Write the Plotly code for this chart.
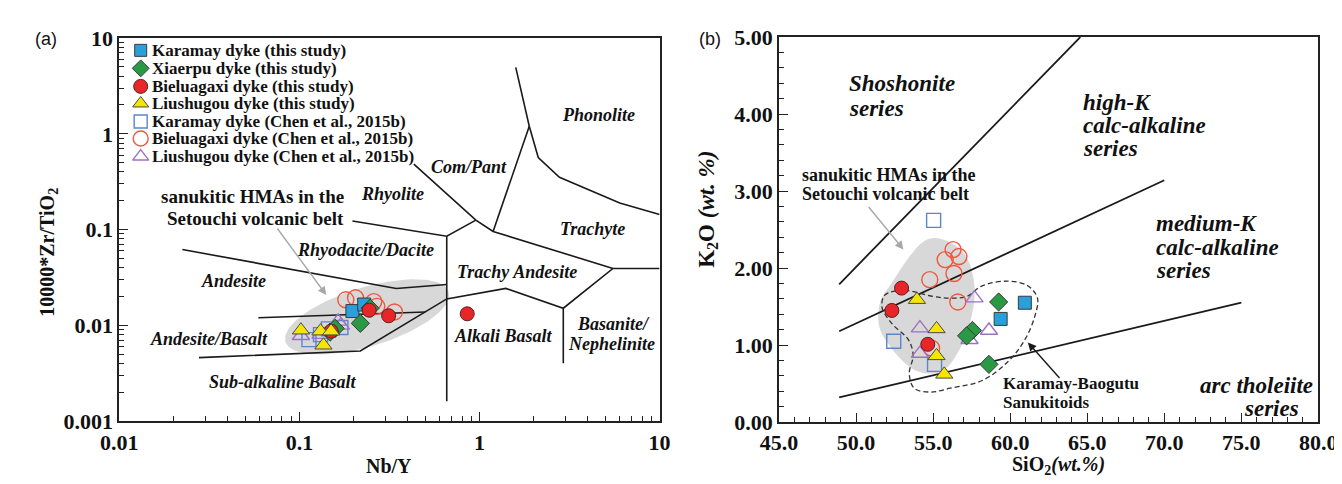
import numpy as np
import plotly.graph_objects as go

W, H = 1342, 484

# ---------------- Panel (a): Nb/Y vs 10000*Zr/TiO2 ----------------
a_karamay_x = [0.197, 0.229]
a_karamay_y = [0.0141, 0.0165]
a_xiaerpu_x = [0.218, 0.247, 0.158, 0.148]
a_xiaerpu_y = [0.0105, 0.0151, 0.0093, 0.0085]
a_bielu_x = [0.244, 0.313, 0.150, 0.855]
a_bielu_y = [0.0144, 0.0126, 0.0087, 0.0132]
a_liushu_x = [0.102, 0.131, 0.150, 0.136]
a_liushu_y = [0.0089, 0.0087, 0.0087, 0.0062]
a_karamay_c_x = [0.113, 0.131, 0.145, 0.170]
a_karamay_c_y = [0.0071, 0.0080, 0.0092, 0.0095]
a_bielu_c_x = [0.181, 0.205, 0.259, 0.269, 0.337]
a_bielu_c_y = [0.0185, 0.0194, 0.0177, 0.0158, 0.0138]
a_liushu_c_x = [0.102, 0.131, 0.164, 0.170]
a_liushu_c_y = [0.0078, 0.0080, 0.0110, 0.0100]

# ---------------- Panel (b): SiO2 vs K2O ----------------
b_karamay_x = [60.95, 59.38]
b_karamay_y = [1.55, 1.34]
b_xiaerpu_x = [59.25, 57.55, 57.17, 58.62]
b_xiaerpu_y = [1.56, 1.19, 1.12, 0.75]
b_bielu_x = [52.95, 52.32, 54.65]
b_bielu_y = [1.74, 1.45, 1.01]
b_liushu_x = [53.95, 55.22, 55.22, 55.72]
b_liushu_y = [1.59, 1.21, 0.86, 0.62]
b_karamay_c_x = [55.03, 52.44, 55.09]
b_karamay_c_y = [2.62, 1.05, 0.75]
b_bielu_c_x = [56.29, 56.67, 55.78, 56.35, 54.78, 56.60, 54.90]
b_bielu_c_y = [2.24, 2.15, 2.11, 1.93, 1.85, 1.56, 0.96]
b_liushu_c_x = [57.68, 54.14, 58.62, 57.36, 54.14]
b_liushu_c_y = [1.61, 1.22, 1.19, 1.07, 0.89]

series_names = [
    "Karamay dyke (this study)",
    "Xiaerpu dyke (this study)",
    "Bieluagaxi dyke (this study)",
    "Liushugou dyke (this study)",
    "Karamay dyke (Chen et al., 2015b)",
    "Bieluagaxi dyke (Chen et al., 2015b)",
    "Liushugou dyke (Chen et al., 2015b)",
]

# Field boundaries, panel (a) (Winchester & Floyd, 1977)
a_boundaries = [
    [(0.0224, 0.0619), (0.345, 0.0243), (0.658, 0.0267)],
    [(0.0592, 0.0120), (0.501, 0.0138)],
    [(0.0277, 0.00461), (0.218, 0.0054), (0.658, 0.0189), (1.40, 0.0243),
     (2.92, 0.0151), (5.51, 0.0393), (10.0, 0.0393)],
    [(0.658, 0.0853), (0.658, 0.00161)],
    [(2.92, 0.0151), (2.92, 0.00402)],
    [(0.197, 0.123), (0.658, 0.0853), (0.955, 0.1256)],
    [(0.432, 0.482), (0.955, 0.1256), (1.19, 0.0955), (5.51, 0.0393)],
    [(1.19, 0.0955), (1.89, 1.2)],
    [(1.59, 4.93), (1.89, 1.2), (2.12, 0.565), (2.78, 0.351), (6.01, 0.189), (10.0, 0.144)],
]

# Series boundaries, panel (b)
b_boundaries = [
    [(48.9, 1.79), (64.55, 5.0)],
    [(48.9, 1.18), (70.0, 3.14)],
    [(48.9, 0.32), (75.0, 1.55)],
]

# Sanukitic HMA field (b) outline
b_hma_x = [55.15, 56.41, 57.17, 57.68, 57.49, 56.73, 55.66, 54.65, 53.58, 52.13,
           51.50, 51.56, 52.32, 53.58, 54.40, 55.15]
b_hma_y = [2.39, 2.30, 2.14, 1.77, 1.37, 0.95, 0.67, 0.63, 0.70, 1.00,
           1.24, 1.56, 1.81, 2.18, 2.35, 2.39]
# Karamay-Baogutu sanukitoids outline (dashed)
b_san_x = [51.87, 53.14, 55.03, 56.10, 57.17, 58.18, 59.88, 61.14, 61.77, 61.59,
           60.95, 59.88, 58.18, 56.10, 54.84, 53.77, 53.45, 53.70, 53.39, 52.32,
           51.68, 51.87]
b_san_y = [1.65, 1.71, 1.63, 1.61, 1.63, 1.77, 1.83, 1.77, 1.61, 1.37,
           1.07, 0.79, 0.54, 0.44, 0.39, 0.44, 0.63, 0.87, 1.07, 1.28,
           1.49, 1.65]

# ---------------- layout geometry ----------------
AX0, AX1, AY0, AY1 = 95, 651, 19, 423      # panel (a) plot box in px
BX0, BX1, BY0, BY1 = 774, 1329, 18, 424    # panel (b) plot box in px
LEG_MARK_X, LEG_TEXT_X = 117, 127
LEG_ROWS = [32, 51, 70, 88, 107, 125, 144]


def px(x, y):
    return x / W, 1 - y / H


def a_from_px(x, y):
    lx = -2 + (x - AX0) / (AX1 - AX0) * 3
    ly = -3 + (AY1 - y) / (AY1 - AY0) * 4
    return 10 ** lx, 10 ** ly


# gray ellipse (sanukitic HMA field) in panel (a), defined in pixel space
t = np.linspace(0, 2 * np.pi, 120)
cx, cy, ra, rb, th = 350, 313, 88, 31, np.deg2rad(17.5)
ex = cx + ra * np.cos(t) * np.cos(th) + rb * np.sin(t) * np.sin(th)
ey = cy - ra * np.cos(t) * np.sin(th) + rb * np.sin(t) * np.cos(th)
ell = [a_from_px(u, v) for u, v in zip(ex, ey)]

fig = go.Figure()

fig.add_trace(go.Scatter(x=[p[0] for p in ell], y=[p[1] for p in ell], mode="lines",
                         fill="toself", fillcolor="#d8d8d8", line=dict(width=0),
                         hoverinfo="skip", showlegend=False, xaxis="x", yaxis="y"))
for seg in a_boundaries:
    fig.add_trace(go.Scatter(x=[p[0] for p in seg], y=[p[1] for p in seg], mode="lines",
                             line=dict(color="#1a1a1a", width=1.6), hoverinfo="skip",
                             showlegend=False, xaxis="x", yaxis="y"))

fig.add_trace(go.Scatter(x=b_hma_x, y=b_hma_y, mode="lines", fill="toself",
                         fillcolor="#d8d8d8", line=dict(width=0, shape="spline"),
                         hoverinfo="skip", showlegend=False, xaxis="x2", yaxis="y2"))
for seg in b_boundaries:
    fig.add_trace(go.Scatter(x=[p[0] for p in seg], y=[p[1] for p in seg], mode="lines",
                             line=dict(color="#1a1a1a", width=1.8), hoverinfo="skip",
                             showlegend=False, xaxis="x2", yaxis="y2"))
fig.add_trace(go.Scatter(x=b_san_x, y=b_san_y, mode="lines",
                         line=dict(color="#333333", width=1.3, dash="5px,3px", shape="spline"),
                         hoverinfo="skip", showlegend=False, xaxis="x2", yaxis="y2"))

styles = [
    dict(symbol="square", size=13, color="#2a9fd9", line=dict(color="#3a3a3a", width=1)),
    dict(symbol="diamond", size=14, color="#2a9944", line=dict(color="#3a3a3a", width=1)),
    dict(symbol="circle", size=14, color="#e8262a", line=dict(color="#5a2020", width=1)),
    dict(symbol="triangle-up", size=15, color="#f4e600", line=dict(color="#4a4a4a", width=1)),
    dict(symbol="square-open", size=14, color="#5a86cf", line=dict(width=1.4)),
    dict(symbol="circle-open", size=16, color="#f2553f", line=dict(width=1.4)),
    dict(symbol="triangle-up-open", size=15, color="#9c72c6", line=dict(width=1.4)),
]
legend_sizes = [12, 13, 14, 14, 13, 15, 14]
a_sets = [(a_karamay_x, a_karamay_y), (a_xiaerpu_x, a_xiaerpu_y), (a_bielu_x, a_bielu_y),
          (a_liushu_x, a_liushu_y), (a_karamay_c_x, a_karamay_c_y),
          (a_bielu_c_x, a_bielu_c_y), (a_liushu_c_x, a_liushu_c_y)]
b_sets = [(b_karamay_x, b_karamay_y), (b_xiaerpu_x, b_xiaerpu_y), (b_bielu_x, b_bielu_y),
          (b_liushu_x, b_liushu_y), (b_karamay_c_x, b_karamay_c_y),
          (b_bielu_c_x, b_bielu_c_y), (b_liushu_c_x, b_liushu_c_y)]
order = [4, 5, 6, 0, 1, 2, 3]  # open symbols underneath, filled on top
for i in order:
    fig.add_trace(go.Scatter(x=b_sets[i][0], y=b_sets[i][1], mode="markers",
                             marker=styles[i], name=series_names[i], legendgroup=str(i),
                             showlegend=False, xaxis="x2", yaxis="y2"))
for i in order:
    fig.add_trace(go.Scatter(x=a_sets[i][0], y=a_sets[i][1], mode="markers",
                             marker=styles[i], name=series_names[i], legendgroup=str(i),
                             showlegend=False, xaxis="x", yaxis="y"))

# compact key (legend) drawn on a pixel-space overlay axis
for i in range(7):
    m = dict(styles[i])
    m["size"] = legend_sizes[i]
    fig.add_trace(go.Scatter(x=[LEG_MARK_X], y=[LEG_ROWS[i]], mode="markers", marker=m,
                             name=series_names[i], legendgroup=str(i), showlegend=False,
                             hoverinfo="skip", xaxis="x3", yaxis="y3", cliponaxis=False))
# stray circle at the bottom edge of the source figure
fig.add_trace(go.Scatter(x=[688], y=[486], mode="markers",
                         marker=dict(symbol="circle-open", size=17, color="#f2553f",
                                     line=dict(width=1.4)),
                         hoverinfo="skip", showlegend=False, xaxis="x3", yaxis="y3",
                         cliponaxis=False))

SERIF = "Liberation Serif"
tickfont = dict(family=SERIF, size=22, color="#111", weight="bold")
common = dict(showline=True, linecolor="#222", linewidth=2, mirror=True, ticks="inside",
              showgrid=False, zeroline=False, tickfont=tickfont, tickcolor="#222")

log_minor_x = [m * 10 ** e for e in (-2, -1, 0) for m in range(2, 10)]
log_minor_y = [m * 10 ** e for e in (-3, -2, -1, 0) for m in range(2, 10)]

fig.update_layout(
    width=W, height=H, margin=dict(l=0, r=0, t=0, b=0),
    paper_bgcolor="white", plot_bgcolor="rgba(0,0,0,0)", showlegend=False,
    xaxis=dict(type="log", range=[-2, 1], domain=[AX0 / W, AX1 / W], anchor="y",
               tickvals=[0.01, 0.1, 1, 10], ticktext=["0.01", "0.1", "1", "10"], ticklen=9,
               minor=dict(ticks="inside", ticklen=5, tickcolor="#222", showgrid=False,
                          tickmode="array", tickvals=log_minor_x), **common),
    yaxis=dict(type="log", range=[-3, 1], domain=[1 - AY1 / H, 1 - AY0 / H], anchor="x",
               tickvals=[0.001, 0.01, 0.1, 1, 10], ticktext=["0.001", "0.01", "0.1", "1", "10"],
               ticklen=9, minor=dict(ticks="inside", ticklen=5, tickcolor="#222", showgrid=False,
                                     tickmode="array", tickvals=log_minor_y),
               **common),
    xaxis2=dict(range=[45, 80], domain=[BX0 / W, BX1 / W], anchor="y2",
                tickvals=[45, 50, 55, 60, 65, 70, 75, 80],
                ticktext=["45.0", "50.0", "55.0", "60.0", "65.0", "70.0", "75.0", "80.0"],
                ticklen=9, minor=dict(ticks="inside", ticklen=5, dtick=1, tickcolor="#222"),
                **common),
    yaxis2=dict(range=[0, 5], domain=[1 - BY1 / H, 1 - BY0 / H], anchor="x2",
                tickvals=[0, 1, 2, 3, 4, 5],
                ticktext=["0.00", "1.00", "2.00", "3.00", "4.00", "5.00"],
                ticklen=9, minor=dict(ticks="inside", ticklen=5, dtick=0.2, tickcolor="#222"),
                **common),
    xaxis3=dict(range=[0, W], domain=[0, 1], anchor="y3", visible=False, fixedrange=True),
    yaxis3=dict(range=[H, 0], domain=[0, 1], anchor="x3", visible=False, fixedrange=True),
)

ann = []


def label(text, x, y, size=15, color="#111", xanchor="center", angle=0, family=SERIF):
    X, Y = px(x, y)
    ann.append(dict(text=text, x=X, y=Y, xref="paper", yref="paper", showarrow=False,
                    xanchor=xanchor, yanchor="middle", textangle=angle,
                    font=dict(family=family, size=size, color=color)))


# legend texts
for i in range(7):
    label("<b>" + series_names[i] + "</b>", LEG_TEXT_X, LEG_ROWS[i], size=17, xanchor="left")

# panel letters
label("(a)", 20, 20, size=18, family="Liberation Sans")
label("(b)", 703, 20, size=18, family="Liberation Sans")

# panel (a) field labels
for txt, x, y in [("Phonolite", 588, 100), ("Com/Pant", 455, 155), ("Rhyolite", 376, 183),
                  ("Trachyte", 582, 220), ("Rhyodacite/Dacite", 348, 243),
                  ("Trachy Andesite", 504, 266), ("Andesite", 213, 275),
                  ("Alkali Basalt", 490, 333), ("Andesite/Basalt", 187, 336),
                  ("Basanite/", 604, 321), ("Nephelinite", 602, 342),
                  ("Sub-alkaline Basalt", 263, 382)]:
    label("<b><i>" + txt + "</i></b>", x, y, size=18)
label("<b>sanukitic HMAs in the</b>", 232, 186, size=19)
label("<b>Setouchi volcanic belt</b>", 235, 209, size=19)

# axis titles
label("<b>Nb/Y</b>", 373, 470, size=20)
label("<b>10000*Zr/TiO<sub>2</sub></b>", 22, 245, size=20, angle=-90)
label("<b>SiO<sub>2</sub></b><b><i>(wt.%)</i></b>", 1062, 470, size=20)
label("<b>K<sub>2</sub>O</b><b><i> (wt. %)</i></b>", 700, 200, size=23, angle=-90)

# panel (b) labels
for txt, x, y in [("Shoshonite", 844, 67), ("series", 844, 93),
                  ("high-K", 1085, 87), ("calc-alkaline", 1085, 111), ("series", 1085, 135),
                  ("medium-K", 1160, 215), ("calc-alkaline", 1160, 240), ("series", 1160, 264),
                  ("arc tholeiite", 1205, 385), ("series", 1250, 410)]:
    label("<b><i>" + txt + "</i></b>", x, y, size=23, xanchor="left")
label("<b>sanukitic HMAs in the</b>", 796, 163, size=18, xanchor="left")
label("<b>Setouchi volcanic belt</b>", 796, 183, size=18, xanchor="left")
label("<b>Karamay-Baogutu</b>", 1002, 383, size=17, xanchor="left")
label("<b>Sanukitoids</b>", 1002, 403, size=17, xanchor="left")


def arrow(x0, y0, x1, y1, color):
    X1, Y1 = px(x1, y1)
    ann.append(dict(x=X1, y=Y1, ax=x0 - x1, ay=y0 - y1, xref="paper", yref="paper",
                    axref="pixel", ayref="pixel", text="", showarrow=True, arrowhead=2,
                    arrowsize=1.2, arrowwidth=1.4, arrowcolor=color))


arrow(258, 222, 308, 290, "#a8a8a8")
arrow(866, 198, 902, 242, "#a8a8a8")
arrow(1063, 377, 1030, 340, "#1a1a1a")

fig.update_layout(annotations=ann)
fig.write_html("out.html")
